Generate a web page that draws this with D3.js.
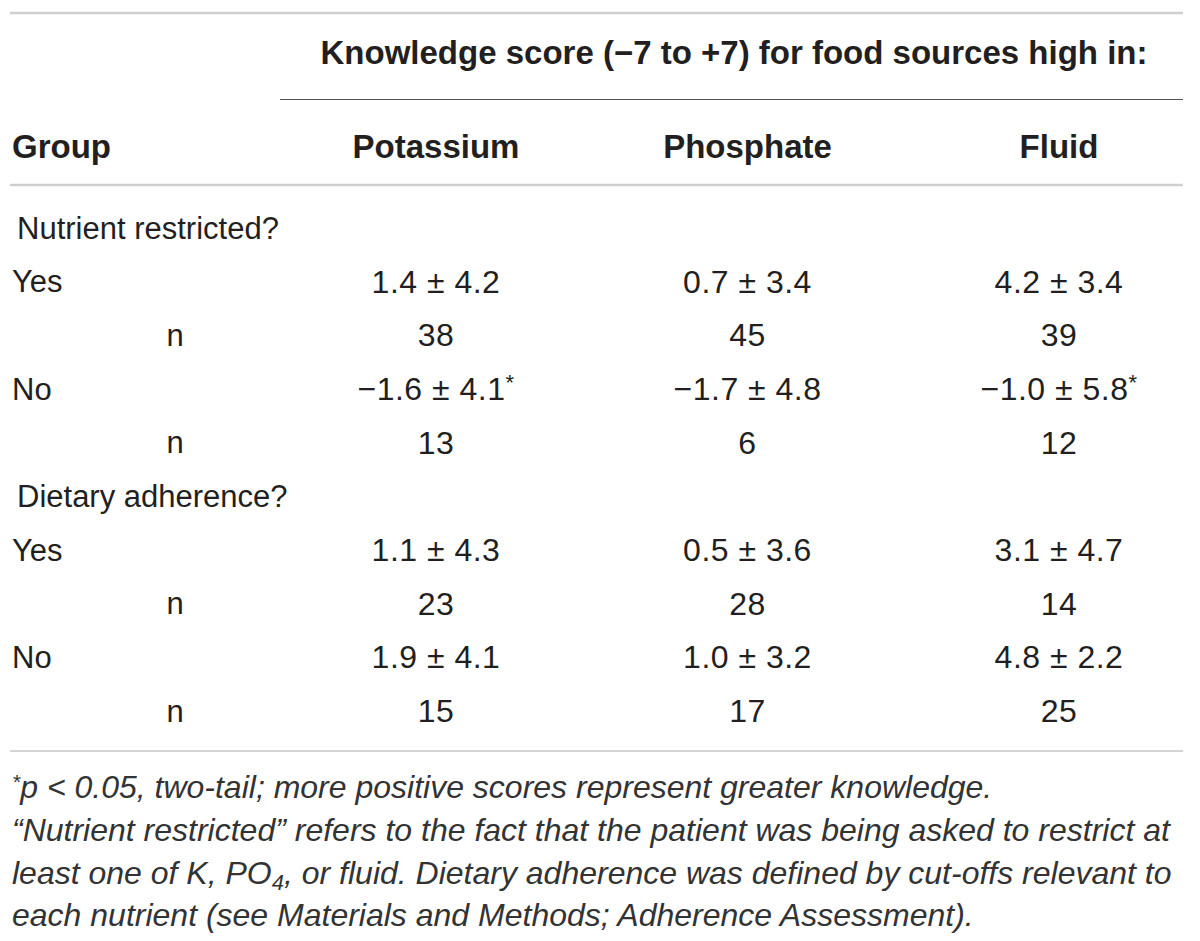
<!DOCTYPE html>
<html>
<head>
<meta charset="utf-8">
<script src="https://cdn.jsdelivr.net/npm/d3@7"></script>
<style>
  body { margin: 0; background: #fff; }
  svg { display: block; font-family: "Liberation Sans", Arial, sans-serif; }
</style>
</head>
<body>
<div id="chart"></div>
<script>
// table content
var columns = ['Potassium', 'Phosphate', 'Fluid'];
var sections = ['Nutrient restricted?', 'Dietary adherence?'];

var nrYesMean = [1.4, 0.7, 4.2];
var nrYesSd = [4.2, 3.4, 3.4];
var nrYesN = [38, 45, 39];
var nrNoMean = [-1.6, -1.7, -1.0];
var nrNoSd = [4.1, 4.8, 5.8];
var nrNoN = [13, 6, 12];
var nrNoSig = [true, false, true];

var daYesMean = [1.1, 0.5, 3.1];
var daYesSd = [4.3, 3.6, 4.7];
var daYesN = [23, 28, 14];
var daNoMean = [1.9, 1.0, 4.8];
var daNoSd = [4.1, 3.2, 2.2];
var daNoN = [15, 17, 25];

var footLines = [
    '\u201cNutrient restricted\u201d refers to the fact that the patient was being asked to restrict at',
    'least one of K, PO|4|, or fluid. Dietary adherence was defined by cut-offs relevant to',
    'each nutrient (see Materials and Methods; Adherence Assessment).'
];

function fmt(v) {
    var s = Math.abs(v).toFixed(1);
    return v < 0 ? '\u2212' + s : s;
}

// rows built from the arrays above
var rows = [
    {type: 'section', label: sections[0]},
    {type: 'stat', label: 'Yes', mean: nrYesMean, sd: nrYesSd},
    {type: 'n', label: 'n', n: nrYesN},
    {type: 'stat', label: 'No', mean: nrNoMean, sd: nrNoSd, sig: nrNoSig},
    {type: 'n', label: 'n', n: nrNoN},
    {type: 'section', label: sections[1]},
    {type: 'stat', label: 'Yes', mean: daYesMean, sd: daYesSd},
    {type: 'n', label: 'n', n: daYesN},
    {type: 'stat', label: 'No', mean: daNoMean, sd: daNoSd},
    {type: 'n', label: 'n', n: daNoN}
];

var width = 1200, height = 941;
var textColor = '#231f20';

var svg = d3.select('#chart').append('svg')
    .attr('width', width)
    .attr('height', height);

var x = d3.scalePoint()
    .domain(columns)
    .range([436, 1059]);

var y = d3.scalePoint()
    .domain(d3.range(rows.length))
    .range([228, 711]);

// rules
svg.append('line').attr('x1', 10).attr('x2', 1183).attr('y1', 13).attr('y2', 13)
    .attr('stroke', '#cfcfcf').attr('stroke-width', 2.5);
svg.append('line').attr('x1', 280).attr('x2', 1183).attr('y1', 99.5).attr('y2', 99.5)
    .attr('stroke', '#555').attr('stroke-width', 1.2);
svg.append('line').attr('x1', 10).attr('x2', 1183).attr('y1', 185).attr('y2', 185)
    .attr('stroke', '#cfcfcf').attr('stroke-width', 2.5);
svg.append('line').attr('x1', 10).attr('x2', 1183).attr('y1', 751).attr('y2', 751)
    .attr('stroke', '#aaa').attr('stroke-width', 1);

// header
svg.append('text')
    .attr('x', 734).attr('y', 52)
    .attr('text-anchor', 'middle').attr('dominant-baseline', 'central')
    .attr('font-weight', 'bold').attr('font-size', 33)
    .attr('fill', textColor)
    .text('Knowledge score (\u22127 to +7) for food sources high in:');

svg.append('text')
    .attr('x', 12).attr('y', 146)
    .attr('dominant-baseline', 'central')
    .attr('font-weight', 'bold').attr('font-size', 33)
    .attr('fill', textColor)
    .text('Group');

svg.selectAll('text.colhead')
    .data(columns)
    .enter()
    .append('text')
    .attr('class', 'colhead')
    .attr('x', function(d) { return x(d); })
    .attr('y', 146)
    .attr('text-anchor', 'middle').attr('dominant-baseline', 'central')
    .attr('font-weight', 'bold').attr('font-size', 33)
    .attr('fill', textColor)
    .text(function(d) { return d; });

// row labels
svg.selectAll('text.rowlabel')
    .data(rows)
    .enter()
    .append('text')
    .attr('class', 'rowlabel')
    .attr('x', function(d) { return d.type == 'section' ? 17 : (d.type == 'n' ? 175 : 12); })
    .attr('y', function(d, i) { return y(i); })
    .attr('text-anchor', function(d) { return d.type == 'n' ? 'middle' : 'start'; })
    .attr('dominant-baseline', 'central')
    .attr('font-size', 31)
    .attr('fill', textColor)
    .text(function(d) { return d.label; });

// cells
rows.forEach(function(r, i) {
    if (r.type == 'section') return;
    var cells = svg.append('g').selectAll('text')
        .data(columns)
        .enter()
        .append('text')
        .attr('x', function(d) { return x(d); })
        .attr('y', y(i))
        .attr('text-anchor', 'middle').attr('dominant-baseline', 'central')
        .attr('font-size', 32)
        .attr('letter-spacing', 0.5)
        .attr('fill', textColor);
    if (r.type == 'n') {
        cells.text(function(d, j) { return r.n[j]; });
    } else {
        cells.text(function(d, j) { return fmt(r.mean[j]) + ' \u00b1 ' + fmt(r.sd[j]); });
        cells.filter(function(d, j) { return r.sig && r.sig[j]; })
            .append('tspan')
            .attr('dy', -7).attr('font-size', 22)
            .text('*');
    }
});

// footnote
var foot = svg.append('g')
    .attr('font-style', 'italic')
    .attr('font-size', 32)
    .attr('fill', '#333');

var f1 = foot.append('text').attr('x', 12).attr('y', 798);
f1.append('tspan').attr('font-size', 21).attr('dy', -9).text('*');
f1.append('tspan').attr('dy', 9).text('p < 0.05, two-tail; more positive scores represent greater knowledge.');

footLines.forEach(function(line, i) {
    var t = foot.append('text').attr('x', 12).attr('y', 841 + i * 42.5);
    line.split('|').forEach(function(part, k) {
        if (k == 1) {
            t.append('tspan').attr('font-size', 22).attr('dy', 6).text(part);
        } else if (k == 2) {
            t.append('tspan').attr('dy', -6).text(part);
        } else {
            t.append('tspan').text(part);
        }
    });
});
</script>
</body>
</html>
